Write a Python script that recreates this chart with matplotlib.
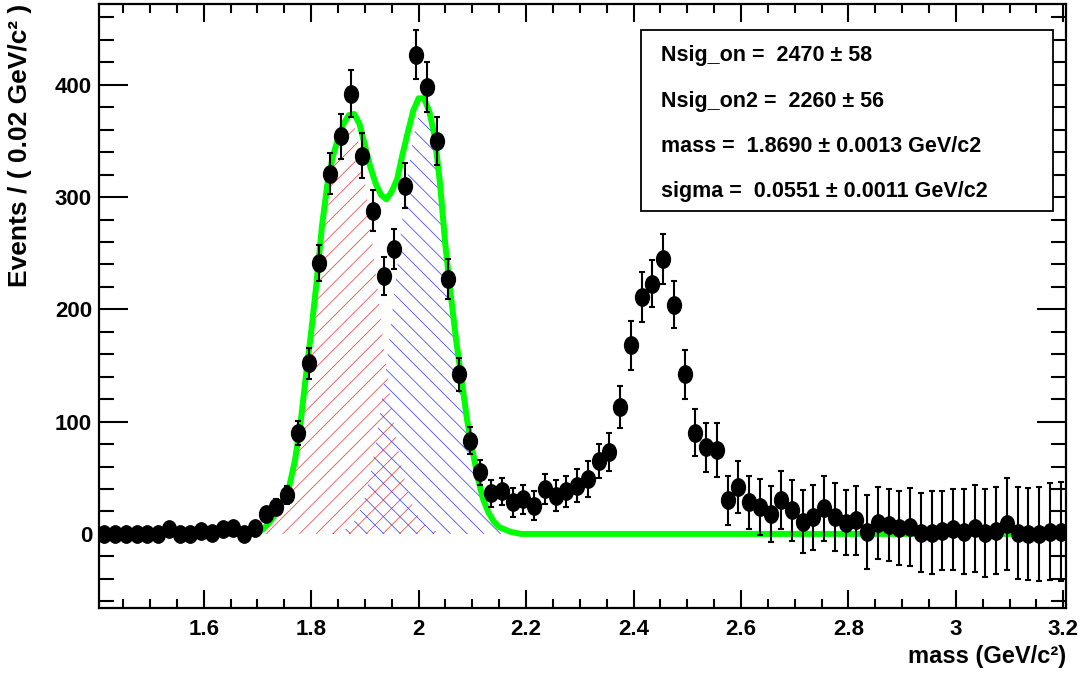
import numpy as np
import matplotlib
matplotlib.use('Agg')
import matplotlib.pyplot as plt
from matplotlib.path import Path
from matplotlib.patches import Rectangle
from matplotlib.ticker import MultipleLocator, FormatStrFormatter

# binning of the mass histogram
mass_lo = 1.405
mass_hi = 3.205
bin_width = 0.02

counts = [0, 0, 0, 0, 0, 0, 4, 0, 0, 3, 1, 4, 5, 0, 5,
          18, 24, 35, 90, 152, 241, 321, 354, 392, 337, 288, 230, 254, 310, 427,
          398, 350, 227, 142, 83,
          55, 36, 38, 28, 31, 25, 40, 34, 38, 43, 49, 65, 73, 113, 168,
          211, 223, 245, 204, 142, 90, 77, 75,
          30, 42, 28, 24, 18, 30, 21, 11, 15, 23, 15, 10, 12, 2, 10, 8,
          5, 6, 1, 1, 3, 4, 2, 5, 1, 3, 9, 1, 0, 0, 2, 2]
errors = [4, 4, 4, 4, 4, 4, 5, 4, 4, 5, 4, 5, 5, 4, 5,
          6, 7, 8, 11, 14, 16, 18, 20, 21, 20, 18, 17, 18, 20, 22,
          22, 21, 18, 15, 12,
          11, 12, 12, 13, 13, 13, 13, 14, 14, 15, 16, 15, 17, 19, 22,
          22, 21, 22, 21, 22, 21, 22, 24,
          22, 23, 24, 25, 25, 26, 27, 28, 29, 29, 30, 29, 31, 33, 32, 32,
          33, 35, 35, 37, 35, 36, 38, 39, 39, 39, 41, 41, 41, 42, 43, 44]

# fit components, sampled every 0.01 from 1.69 to 2.19
curve_start = 1.69
curve_step = 0.01
sig1 = [0, 1, 4, 9, 15, 24, 33, 44, 66, 98, 140, 180, 224, 274, 311, 335,
        350, 362, 367, 363, 345, 313, 275, 233, 189, 148, 111, 80, 56, 37,
        24, 15, 9, 5, 3, 1, 0, 0, 0, 0, 0, 0, 0, 0, 0, 0, 0, 0, 0, 0, 0]
sig2 = [0, 0, 0, 0, 0, 0, 0, 0, 0, 0, 0, 0, 0, 0, 0, 1, 2, 3, 6, 11, 20,
        33, 52, 79, 113, 150, 194, 236, 282, 321, 353, 373, 379, 371, 351,
        310, 256, 212, 172, 137, 102, 75, 50, 31, 19, 11, 6, 4, 2, 1, 0]

fit_text = ['Nsig_on =  2470 \u00b1 58',
            'Nsig_on2 =  2260 \u00b1 56',
            'mass =  1.8690 \u00b1 0.0013 GeV/c2',
            'sigma =  0.0551 \u00b1 0.0011 GeV/c2']

plt.rcParams['font.family'] = ['Liberation Sans', 'DejaVu Sans']
plt.rcParams['font.weight'] = 'bold'
plt.rcParams['hatch.linewidth'] = 0.5

fig = plt.figure(figsize=(10.83, 6.77), dpi=100)
ax = fig.add_axes([0.0914, 0.1019, 0.8929, 0.8922])

centers = mass_lo + bin_width * (np.arange(len(counts)) + 0.5)
cx = curve_start + curve_step * np.arange(len(sig1))
s1 = np.array(sig1, dtype=float)
s2 = np.array(sig2, dtype=float)
total = s1 + s2

ax.fill_between(cx, 0, s1, facecolor='none', edgecolor='#ff3030',
                hatch='//', linewidth=0, zorder=1)
ax.fill_between(cx, 0, s2, facecolor='none', edgecolor='#3030ff',
                hatch='\\\\', linewidth=0, zorder=1)

line_x = np.concatenate([[mass_lo], cx, [mass_hi]])
line_y = np.concatenate([[0], total, [0]])
ax.plot(line_x, line_y, color='#00ff00', lw=4.3, zorder=2,
        solid_joinstyle='round')

circ = Path.unit_circle()
ellipse = Path(circ.vertices * [0.8, 1.0], circ.codes)
ax.errorbar(centers, counts, yerr=errors, fmt='none', ecolor='black',
            elinewidth=1.5, capsize=2, capthick=1.5, zorder=3)
ax.plot(centers, counts, ls='none', marker=ellipse, ms=12.5, color='black',
        zorder=4)

ax.set_xlim(mass_lo, mass_hi)
ax.set_ylim(-66, 472)
ax.xaxis.set_major_locator(MultipleLocator(0.2))
ax.xaxis.set_minor_locator(MultipleLocator(0.05))
ax.xaxis.set_major_formatter(FormatStrFormatter('%g'))
ax.yaxis.set_major_locator(MultipleLocator(100))
ax.yaxis.set_minor_locator(MultipleLocator(20))
ax.tick_params(which='both', direction='in', top=True, right=True,
               width=1.5, color='black')
ax.tick_params(axis='x', which='major', length=13, pad=8, labelsize=16)
ax.tick_params(axis='x', which='minor', length=6.5)
ax.tick_params(axis='y', which='major', length=21, pad=5, labelsize=16)
ax.tick_params(axis='y', which='minor', length=10.5)
for lab in ax.get_xticklabels() + ax.get_yticklabels():
    lab.set_fontweight('bold')
for sp in ax.spines.values():
    sp.set_linewidth(1.6)

ax.add_patch(Rectangle((0.5605, 0.657), 0.426, 0.300, transform=ax.transAxes,
                       facecolor='white', edgecolor='black', lw=1.3,
                       zorder=5))
for i, t in enumerate(fit_text):
    ax.text(0.581, 0.914 - 0.075 * i, t, transform=ax.transAxes,
            ha='left', va='center', fontsize=15.5, fontweight='bold',
            zorder=6)

fig.text(20 / 1083, 1 - 4 / 677, 'Events / ( 0.02 GeV/c\u00b2 )',
         rotation=90, ha='center', va='top', fontsize=19,
         fontweight='bold')
fig.text(1066 / 1083, 1 - 656 / 677, 'mass (GeV/c\u00b2)', ha='right',
         va='center', fontsize=17, fontweight='bold')

fig.savefig('out.png', dpi=100)
